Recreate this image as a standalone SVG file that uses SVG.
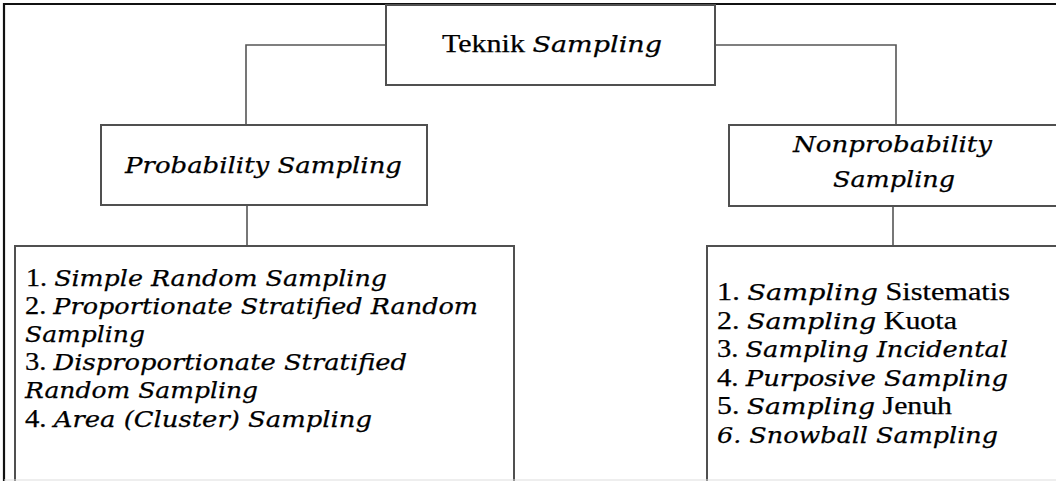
<svg xmlns="http://www.w3.org/2000/svg" width="1056" height="481" viewBox="0 0 1056 481">
<style>
.box{fill:#fff;stroke:#505050;stroke-width:2}
.con{fill:none;stroke:#555;stroke-width:1.6}
.frame{fill:none;stroke:#111;stroke-width:2.2}
text{font-size:24px;fill:#000;stroke:#000;stroke-width:0.25}
.r{font-family:"Liberation Serif","Times New Roman",serif;font-style:normal;font-size:25px}
.i{font-family:"DejaVu Serif","Liberation Serif",serif;font-style:italic;font-size:22.5px}
</style>
<rect width="1056" height="481" fill="#fff"/>
<path class="frame" d="M4,481 V4 H1056"/>
<g id="connectors">
<path class="con" d="M386,45 H246 V125"/>
<path class="con" d="M715,45 H896 V125"/>
<path class="con" d="M247,205 V246"/>
<path class="con" d="M893,206 V246"/>
</g>
<g id="teknik">
<rect class="box" x="386" y="5" width="329" height="80"/>
<text x="442" y="52" textLength="220" lengthAdjust="spacingAndGlyphs"><tspan class="r">Teknik </tspan><tspan class="i">Sampling</tspan></text>
</g>
<g id="probability">
<rect class="box" x="101" y="125" width="326" height="80"/>
<text x="125" y="173" textLength="277" lengthAdjust="spacingAndGlyphs"><tspan class="i">Probability Sampling</tspan></text>
</g>
<g id="nonprobability">
<rect class="box" x="729" y="125" width="340" height="81"/>
<text x="793" y="152" textLength="199" lengthAdjust="spacingAndGlyphs"><tspan class="i">Nonprobability</tspan></text>
<text x="833" y="187" textLength="122" lengthAdjust="spacingAndGlyphs"><tspan class="i">Sampling</tspan></text>
</g>
<g id="probability-list">
<rect class="box" x="15" y="246" width="499" height="240"/>
<text x="26" y="286" textLength="361" lengthAdjust="spacingAndGlyphs"><tspan class="r">1. </tspan><tspan class="i">Simple Random Sampling</tspan></text>
<text x="25" y="314" textLength="453" lengthAdjust="spacingAndGlyphs"><tspan class="r">2. </tspan><tspan class="i">Proportionate Stratified Random</tspan></text>
<text x="25" y="342" textLength="120" lengthAdjust="spacingAndGlyphs"><tspan class="i">Sampling</tspan></text>
<text x="25" y="370" textLength="382" lengthAdjust="spacingAndGlyphs"><tspan class="r">3. </tspan><tspan class="i">Disproportionate Stratified</tspan></text>
<text x="25" y="398" textLength="233" lengthAdjust="spacingAndGlyphs"><tspan class="i">Random Sampling</tspan></text>
<text x="25" y="427" textLength="347" lengthAdjust="spacingAndGlyphs"><tspan class="r">4. </tspan><tspan class="i">Area (Cluster) Sampling</tspan></text>
</g>
<g id="nonprobability-list">
<rect class="box" x="707" y="246" width="360" height="240"/>
<text x="717" y="300" textLength="293" lengthAdjust="spacingAndGlyphs"><tspan class="r">1. </tspan><tspan class="i">Sampling</tspan><tspan class="r"> Sistematis</tspan></text>
<text x="717" y="328.6" textLength="240" lengthAdjust="spacingAndGlyphs"><tspan class="r">2. </tspan><tspan class="i">Sampling</tspan><tspan class="r"> Kuota</tspan></text>
<text x="717" y="357" textLength="291" lengthAdjust="spacingAndGlyphs"><tspan class="r">3. </tspan><tspan class="i">Sampling Incidental</tspan></text>
<text x="717" y="386" textLength="291" lengthAdjust="spacingAndGlyphs"><tspan class="r">4. </tspan><tspan class="i">Purposive Sampling</tspan></text>
<text x="717" y="414" textLength="235" lengthAdjust="spacingAndGlyphs"><tspan class="r">5. </tspan><tspan class="i">Sampling</tspan><tspan class="r"> Jenuh</tspan></text>
<text x="717" y="443" textLength="281" lengthAdjust="spacingAndGlyphs"><tspan class="i">6. Snowball Sampling</tspan></text>
</g>
<line x1="4" y1="480" x2="1056" y2="480" stroke="#ddd" stroke-width="1"/>
</svg>
